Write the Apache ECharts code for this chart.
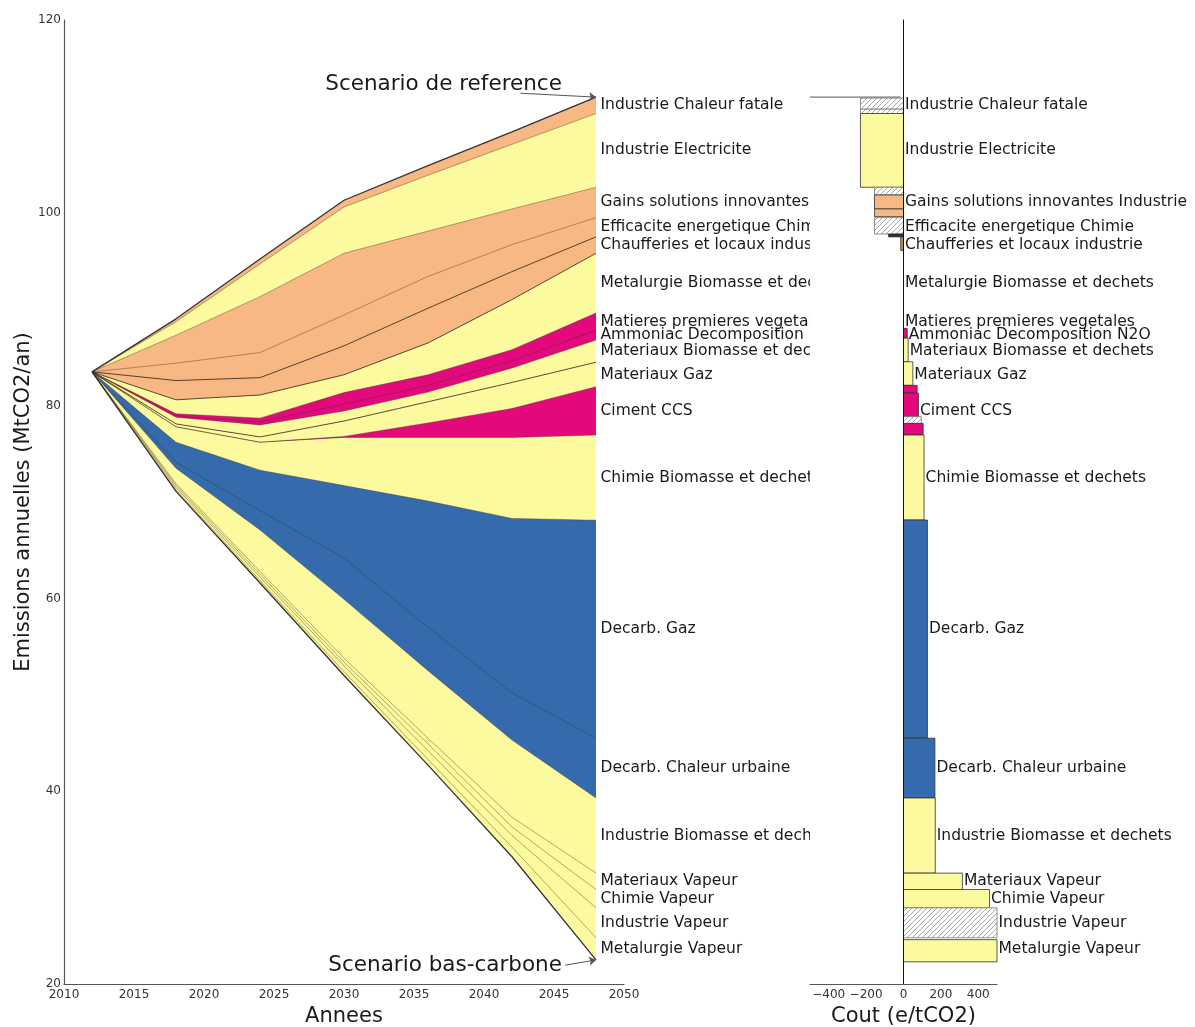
<!DOCTYPE html>
<html><head><meta charset="utf-8">
<script src="https://cdn.jsdelivr.net/npm/echarts@6/dist/echarts.min.js"></script>
<style>html,body{margin:0;padding:0;background:#fff}#c{width:1195px;height:1027px}</style>
</head><body><div id="c"></div>
<script>
// ---------------- DATA ----------------
const years = [2012, 2018, 2024, 2030, 2036, 2042, 2048];
// low-carbon scenario (bottom line of the wedge)
const lowCarbon = [83.5, 71.1, 61.6, 52.0, 42.7, 33.2, 22.5];
// abatement bands, stacked from the bottom upward (MtCO2/an)
const metalurgieVapeur   = [0, 0.15, 0.25, 0.4, 0.6, 1.0, 2.3];
const industrieVapeur    = [0, 0.25, 0.35, 0.6, 0.9, 1.2, 3.1];
const chimieVapeur       = [0, 0.2, 0.3, 0.4, 0.7, 0.9, 1.9];
const materiauxVapeur    = [0, 0.2, 0.3, 0.4, 0.6, 1.0, 1.7];
const industrieBiomasse  = [0, 1.6, 4.3, 6.1, 7.0, 8.0, 7.8];
const chaleurUrbaine     = [0, 0.6, 2.0, 4.3, 4.5, 4.9, 6.2];
const decarbGaz          = [0, 2.1, 4.2, 7.5, 13.1, 18.1, 22.6];
const chimieBiomasse     = [0, 1.6, 2.9, 5.0, 6.6, 8.4, 8.85];
const cimentCCS          = [0, 0, 0, 0.1, 1.5, 3.0, 5.0];
const materiauxGaz       = [0, 0.3, 0.55, 1.6, 2.2, 2.7, 2.55];
const materiauxBiomasse  = [0, 0.7, 1.25, 1.05, 1.0, 1.5, 2.3];
const ammoniacN2O        = [0, 0.15, 0.3, 0.7, 0.7, 0.75, 1.0];
const matieresVegetales  = [0, 0.2, 0.4, 1.2, 1.1, 1.15, 1.8];
const metalurgieBiomasse = [0, 1.45, 2.4, 1.85, 3.3, 5.2, 6.2];
const chaufferies        = [0, 2.0, 1.8, 3.0, 3.6, 2.9, 1.7];
const efficaciteChimie   = [0, 1.8, 2.6, 3.2, 3.3, 2.8, 2.0];
const gainsInnovantes    = [0, 2.9, 5.8, 6.4, 4.7, 3.7, 3.15];
const industrieElec      = [0, 1.4, 3.4, 4.8, 5.8, 6.7, 7.65];
const chaleurFatale      = [0, 0.3, 0.5, 0.7, 1.0, 1.3, 1.7];

const measureNames = [
  'Metalurgie Vapeur', 'Industrie Vapeur', 'Chimie Vapeur', 'Materiaux Vapeur',
  'Industrie Biomasse et dechets', 'Decarb. Chaleur urbaine', 'Decarb. Gaz',
  'Chimie Biomasse et dechets', 'Ciment CCS', 'Materiaux Gaz', 'Materiaux Biomasse et dechets',
  'Ammoniac Decomposition N2O', 'Matieres premieres vegetales', 'Metalurgie Biomasse et dechets',
  'Chaufferies et locaux industrie', 'Efficacite energetique Chimie',
  'Gains solutions innovantes Industrie', 'Industrie Electricite', 'Industrie Chaleur fatale'
];
// cost of each measure (e/tCO2) used for the right-hand labels
const measureCost = [500, 500, 460, 315, 170, 168, 128, 110, 80, 50, 25, 20, 0, 0, -15, -155, -155, -230, -230];

// right panel bars: band low, band high (MtCO2/an), cost (e/tCO2), fill kind
const barLow  = [110.75, 110.3, 102.65, 101.85, 100.4, 99.6, 97.8, 97.5, 96.1, 87.0, 84.55, 82.1, 81.3, 78.85, 78.15, 76.95, 68.13, 45.5, 39.3, 31.5, 29.8, 27.9, 24.8, 22.3];
const barHigh = [111.9, 110.75, 110.3, 102.65, 101.85, 100.4, 99.5, 97.8, 97.5, 88.0, 87.0, 84.55, 82.1, 81.3, 78.85, 78.15, 76.95, 68.13, 45.5, 39.3, 31.5, 29.8, 27.9, 24.6];
const barCost = [-230, -230, -230, -155, -155, -155, -155, -80, -15, 20, 25, 50, 73, 80, 95, 105, 110, 128, 168, 170, 315, 460, 500, 500];
const barKind = ['hatch', 'hatch', 'yellow', 'hatch', 'orange', 'orange', 'hatch', 'dark', 'brown', 'magenta', 'yellow', 'yellow',
  'magenta', 'magenta', 'hatch', 'magenta', 'yellow', 'blue', 'blue', 'yellow', 'yellow', 'yellow', 'hatch', 'yellow'];

// ---------------- STYLE ----------------
const FONT = 'DejaVu Sans';
const TXT = '#1a1a1a';
const YELLOW = '#FCFA9E', ORANGE = '#F8B883', MAGENTA = '#E3087B', BLUE = '#356AAD', BROWN = '#C4844C', DARK = '#2a2a2a';
const bandColor = [YELLOW, YELLOW, YELLOW, YELLOW, YELLOW, BLUE, BLUE, YELLOW, MAGENTA, YELLOW, YELLOW,
  MAGENTA, MAGENTA, YELLOW, ORANGE, ORANGE, ORANGE, YELLOW, ORANGE];
const darkEdge = { 'Chaufferies et locaux industrie': true, 'Metalurgie Biomasse et dechets': true, 'Materiaux Gaz': true };

const hatchCanvas = document.createElement('canvas');
hatchCanvas.width = 5; hatchCanvas.height = 5;
(function () {
  const g = hatchCanvas.getContext('2d');
  g.fillStyle = '#ffffff'; g.fillRect(0, 0, 5, 5);
  g.strokeStyle = '#909090'; g.lineWidth = 0.8;
  g.beginPath();
  g.moveTo(0, 5); g.lineTo(5, 0);
  g.moveTo(-1, 1); g.lineTo(1, -1);
  g.moveTo(4, 6); g.lineTo(6, 4);
  g.stroke();
})();
const HATCH = { image: hatchCanvas, repeat: 'repeat' };
const kindFill = { hatch: HATCH, yellow: YELLOW, orange: ORANGE, magenta: MAGENTA, blue: BLUE, brown: BROWN, dark: DARK };

// ---------------- BUILD ----------------
const bands = [metalurgieVapeur, industrieVapeur, chimieVapeur, materiauxVapeur, industrieBiomasse,
  chaleurUrbaine, decarbGaz, chimieBiomasse, cimentCCS, materiauxGaz, materiauxBiomasse, ammoniacN2O,
  matieresVegetales, metalurgieBiomasse, chaufferies, efficaciteChimie, gainsInnovantes, industrieElec, chaleurFatale];
const last = years.length - 1;
const tops = [];
let running = lowCarbon.slice();
bands.forEach(b => { running = running.map((v, i) => v + b[i]); tops.push(running.slice()); });
const mids = bands.map((b, k) => tops[k][last] - b[last] / 2);
const reference = tops[tops.length - 1];

const labelItem = { color: 'transparent', opacity: 1 };
const series = [];
for (let k = bands.length - 1; k >= 0; k--) {
  const top = k === bands.length - 1;
  const dark = darkEdge[measureNames[k]];
  series.push({
    type: 'line', name: measureNames[k], xAxisIndex: 0, yAxisIndex: 0,
    data: years.map((y, i) => [y, tops[k][i]]), symbol: 'none', silent: true,
    areaStyle: { color: bandColor[k], opacity: 1, origin: 'start' },
    lineStyle: { color: top ? '#333' : (dark ? 'rgba(50,35,25,0.9)' : 'rgba(70,50,35,0.7)'), width: top ? 1.3 : (dark ? 0.9 : 0.6) },
    z: 2
  });
}
series.push({
  type: 'line', name: 'Scenario bas-carbone', xAxisIndex: 0, yAxisIndex: 0,
  data: years.map((y, i) => [y, lowCarbon[i]]), symbol: 'none', silent: true,
  areaStyle: { color: '#fff', opacity: 1, origin: 'start' },
  lineStyle: { color: '#333', width: 1.3 }, z: 2
});
series.push({
  type: 'scatter', xAxisIndex: 0, yAxisIndex: 0, symbolSize: 1, silent: true, itemStyle: labelItem,
  data: measureNames.map((n, k) => ({ name: n, value: [years[last], mids[k]] })),
  label: { show: true, position: 'right', distance: 4, formatter: '{b}', color: TXT, fontSize: 15.5, fontFamily: FONT, opacity: 1 },
  z: 3
});
series.push({
  type: 'scatter', xAxisIndex: 0, yAxisIndex: 0, symbolSize: 1, silent: true, itemStyle: labelItem,
  data: [
    { name: 'Scenario de reference', value: [2045.6, 113.35] },
    { name: 'Scenario bas-carbone', value: [2045.6, 21.97] }
  ],
  label: { show: true, position: 'left', distance: 0, formatter: '{b}', color: TXT, fontSize: 21.5, fontFamily: FONT, opacity: 1 },
  markLine: {
    silent: true, symbol: ['none', 'arrow'], symbolSize: 7,
    lineStyle: { color: '#555', width: 1, type: 'solid' }, label: { show: false },
    data: [
      [{ coord: [2042.6, 112.4] }, { coord: [years[last], reference[last]], lineStyle: { curveness: -0.08 } }],
      [{ coord: [2045.8, 21.95] }, { coord: [years[last], lowCarbon[last]] }]
    ]
  }, z: 3
});
series.push({
  type: 'line', xAxisIndex: 1, yAxisIndex: 1, symbol: 'none', silent: true,
  data: [[-500, reference[last]], [-15, reference[last]]], lineStyle: { color: '#777', width: 1.3 }, z: 6
});
series.push({
  type: 'custom', xAxisIndex: 1, yAxisIndex: 1, silent: true, clip: false,
  data: barLow.map((l, i) => [l, barHigh[i], barCost[i]]),
  encode: { x: 2, y: [0, 1] },
  renderItem: function (params, api) {
    const lo = api.value(0), hi = api.value(1), c = api.value(2);
    const a = api.coord([0, hi]), b = api.coord([c, lo]);
    const kind = barKind[params.dataIndex];
    return {
      type: 'rect',
      shape: { x: Math.min(a[0], b[0]), y: a[1], width: Math.abs(b[0] - a[0]), height: b[1] - a[1] },
      style: { fill: kindFill[kind], stroke: kind === 'hatch' ? '#777' : '#333', lineWidth: 0.8 }
    };
  }, z: 6
});
series.push({
  type: 'scatter', xAxisIndex: 1, yAxisIndex: 1, symbolSize: 1, silent: true, itemStyle: labelItem,
  data: measureNames.map((n, k) => ({ name: n, value: [Math.max(0, measureCost[k]), mids[k]] })),
  label: { show: true, position: 'right', distance: 1, formatter: '{b}', color: TXT, fontSize: 15.5, fontFamily: FONT, opacity: 1 },
  z: 7
});

const axisLineStyle = { color: '#555', width: 1.2 };
const option = {
  animation: false,
  backgroundColor: '#fff',
  textStyle: { fontFamily: FONT },
  grid: [
    { left: 64, top: 20, width: 560, height: 964, outerBoundsMode: 'none', containLabel: false },
    { left: 810, top: 20, width: 187, height: 964, outerBoundsMode: 'none', containLabel: false,
      show: true, backgroundColor: '#fff', borderWidth: 0, z: 4 }
  ],
  xAxis: [
    {
      type: 'value', gridIndex: 0, min: 2010, max: 2050, interval: 5, z: 10,
      axisLine: { show: true, onZero: false, lineStyle: axisLineStyle }, axisTick: { show: false }, splitLine: { show: false },
      axisLabel: { color: '#333', fontSize: 12, margin: 5, fontFamily: FONT, formatter: v => String(v) },
      name: 'Annees', nameLocation: 'middle', nameGap: 21, nameTextStyle: { fontSize: 21, color: TXT, fontFamily: FONT }
    },
    {
      type: 'value', gridIndex: 1, min: -500, max: 500, interval: 100, z: 10,
      axisLine: { show: true, onZero: false, lineStyle: axisLineStyle }, axisTick: { show: false }, splitLine: { show: false },
      axisLabel: {
        color: '#333', fontSize: 12, margin: 5, fontFamily: FONT, showMinLabel: true, showMaxLabel: true,
        formatter: v => (Math.abs(v) % 200 !== 0 || Math.abs(v) > 400) ? '' : (v < 0 ? '\u2212' + Math.abs(v) : String(v))
      },
      name: 'Cout (e/tCO2)', nameLocation: 'middle', nameGap: 21, nameTextStyle: { fontSize: 21, color: TXT, fontFamily: FONT }
    }
  ],
  yAxis: [
    {
      type: 'value', gridIndex: 0, min: 20, max: 120, interval: 20, z: 10,
      axisLine: { show: true, onZero: false, lineStyle: axisLineStyle }, axisTick: { show: false }, splitLine: { show: false },
      axisLabel: { color: '#333', fontSize: 12, margin: 3, fontFamily: FONT },
      name: 'Emissions annuelles (MtCO2/an)', nameLocation: 'middle', nameGap: 30, nameRotate: 90,
      nameTextStyle: { fontSize: 21, color: TXT, fontFamily: FONT }
    },
    {
      type: 'value', gridIndex: 1, min: 20, max: 120, z: 10,
      axisLine: { show: true, onZero: true, lineStyle: { color: '#111', width: 1 } },
      axisTick: { show: false }, axisLabel: { show: false }, splitLine: { show: false }
    }
  ],
  series: series
};
const chart = echarts.init(document.getElementById('c'));
chart.setOption(option);
</script>
</body></html>
